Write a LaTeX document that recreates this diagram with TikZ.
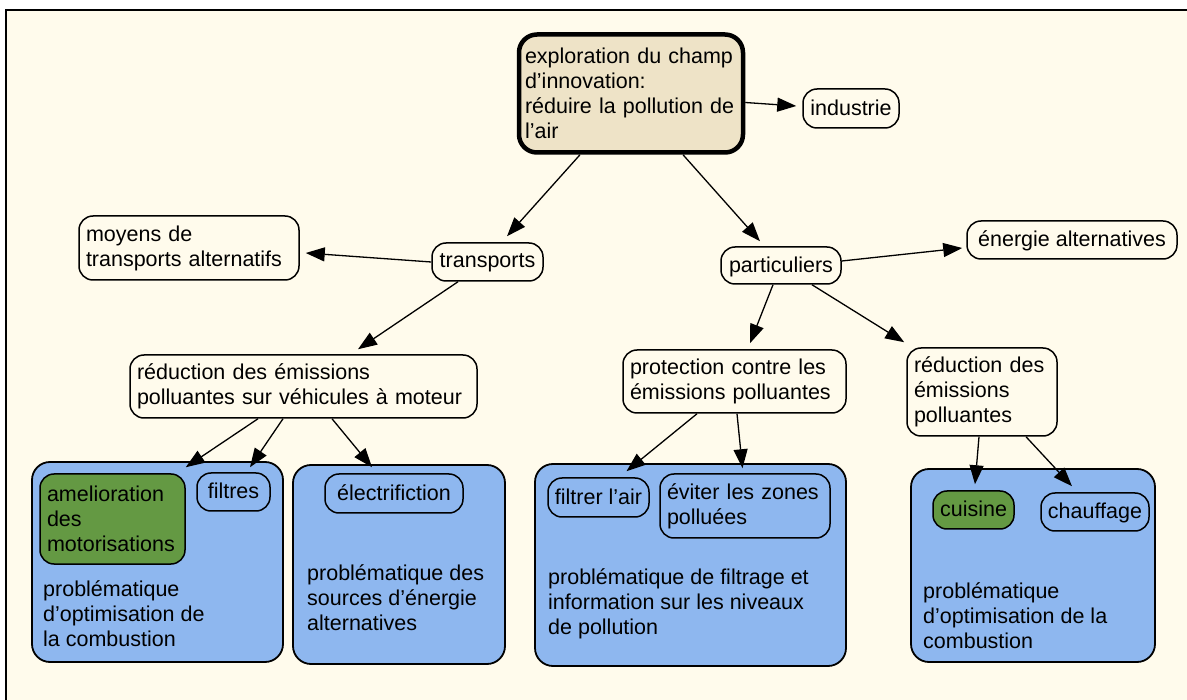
\documentclass[tikz,border=0pt]{standalone}
\usepackage{fontspec}
\setmainfont{Liberation Sans}
\usetikzlibrary{arrows.meta}
\definecolor{cream}{RGB}{255,251,236}
\definecolor{rootfill}{RGB}{238,227,199}
\definecolor{bluefill}{RGB}{142,183,239}
\definecolor{greenfill}{RGB}{100,153,67}
\begin{document}
\begin{tikzpicture}[x=1pt,y=-1pt,
  every node/.style={font=\fontsize{21.5}{25}\selectfont},
  sz/.style 2 args={minimum width=#1pt, minimum height=#2pt},
  cbox/.style={draw=black, line width=1.5pt, rounded corners=14pt, fill=cream, inner xsep=0pt, inner ysep=0pt, align=center, text depth=2pt},
  lbox/.style={draw=black, line width=1.5pt, rounded corners=14pt, fill=cream, inner xsep=7pt, inner ysep=0pt, align=left},
  rootbox/.style={draw=black, line width=4.5pt, rounded corners=18pt, fill=rootfill, inner xsep=6pt, inner ysep=0pt, align=left},
  bluebox/.style={draw=black, line width=1.8pt, rounded corners=18pt, fill=bluefill, inner sep=0pt},
  bbox/.style={draw=black, line width=1.5pt, rounded corners=14pt, fill=bluefill, inner xsep=0pt, inner ysep=0pt, align=center, text depth=2pt},
  gbox/.style={draw=black, line width=1.5pt, rounded corners=14pt, fill=greenfill, inner xsep=7pt, inner ysep=0pt, align=left},
  btext/.style={anchor=west, inner sep=0pt, align=left},
  arr/.style={draw=black, line width=1.3pt, -{Triangle[length=19pt,width=14pt]}}
]
\useasboundingbox (0,0) rectangle (1187,700);
\fill[white] (0,0) rectangle (1187,700);
\fill[cream] (6,10) rectangle (1187,700);
\draw[line width=2pt] (6,700) -- (6,10) -- (1187,10);

% top level
\node[rootbox, text width=212pt, sz={224}{118}] (root) at (631,93.5)
  {exploration du champ\\d’innovation:\\réduire la pollution de\\l’air};
\node[cbox, sz={96}{39}] (industrie) at (851,108.5) {industrie};
\node[cbox, sz={111}{38}] (transports) at (487.5,262) {transports};
\node[lbox, text width=206pt, sz={220}{64}] (moyens) at (189,248) {moyens de\\transports alternatifs};
\node[cbox, sz={120}{37}] (particuliers) at (781,265.5) {particuliers};
\node[cbox, sz={210}{38}] (energie) at (1072,240) {énergie alternatives};
\node[lbox, text width=333pt, sz={347}{63}] (redL) at (303.5,386.5) {réduction des émissions\\polluantes sur véhicules à moteur};
\node[lbox, text width=209pt, sz={223}{63}] (prot) at (734.5,381.5) {protection contre les\\émissions polluantes};
\node[lbox, text width=136pt, sz={150}{88}] (redR) at (982,392) {réduction des\\émissions\\polluantes};

% blue groups
\node[bluebox, sz={251}{200}] (box1) at (157.5,562) {};
\node[bluebox, sz={212}{199}] (box2) at (399,564.5) {};
\node[bluebox, sz={311}{202}] (box3) at (690.5,565) {};
\node[bluebox, sz={244}{193}] (box4) at (1033,565.5) {};

\node[gbox, text width=131pt, sz={145}{90}] (ameli) at (112.5,519) {amelioration\\des\\motorisations};
\node[bbox, sz={73}{38}] (filtres) at (233.5,492) {filtres};
\node[btext] (t1) at (43,614) {problématique\\d’optimisation de\\la combustion};

\node[bbox, sz={138}{39}] (electr) at (394,493.5) {électrifiction};
\node[btext] (t2) at (307,598) {problématique des\\sources d’énergie\\alternatives};

\node[bbox, sz={101}{39}] (filtrer) at (598.5,497.5) {filtrer l’air};
\node[lbox, fill=bluefill, text width=156pt, sz={170}{64}] (eviter) at (745,506) {éviter les zones\\polluées};
\node[btext] (t3) at (548,604) {problématique de filtrage et\\information sur les niveaux\\de pollution};

\node[bbox, fill=greenfill, sz={81}{38}] (cuisine) at (973.5,510) {cuisine};
\node[bbox, sz={108}{38}] (chauffage) at (1095,512) {chauffage};
\node[btext] (t4) at (923,616) {problématique\\d’optimisation de la\\combustion};

% connectors
\draw[arr] ([yshift=-9pt]root.east) -- ([xshift=-6pt,yshift=2.5pt]industrie.west);
\draw[arr] ([xshift=-51pt]root.south) -- ([xshift=19.5pt,yshift=6pt]transports.north);
\draw[arr] ([xshift=52pt]root.south) -- ([xshift=-21pt,yshift=5pt]particuliers.north);
\draw[arr] (transports.west) -- ([xshift=6pt,yshift=-5pt]moyens.east);
\draw[arr] ([xshift=-29.5pt]transports.south) -- ([xshift=54.5pt,yshift=5pt]redL.north);
\draw[arr] ([yshift=4.5pt]particuliers.east) -- ([xshift=-4pt,yshift=-8pt]energie.west);
\draw[arr] ([xshift=-8pt]particuliers.south) -- ([xshift=15.5pt,yshift=6pt]prot.north);
\draw[arr] ([xshift=31pt]particuliers.south) -- ([xshift=-2pt,yshift=5pt]redR.north west);
\draw[arr] ([xshift=-45.5pt]redL.south) -- ([yshift=6pt]ameli.north east);
\draw[arr] ([xshift=-20.5pt]redL.south) -- ([xshift=16.5pt,yshift=5pt]filtres.north);
\draw[arr] ([xshift=28.5pt]redL.south) -- ([xshift=-22pt,yshift=6pt]electr.north);
\draw[arr] ([xshift=-37.5pt]prot.south) -- ([xshift=28pt,yshift=6pt]filtrer.north);
\draw[arr] ([xshift=2.5pt]prot.south) -- ([xshift=-2.5pt,yshift=5pt]eviter.north);
\draw[arr] ([xshift=-3pt]redR.south) -- ([xshift=1.5pt,yshift=6pt]cuisine.north);
\draw[arr] ([xshift=44pt]redR.south) -- ([xshift=-23pt,yshift=6pt]chauffage.north);
\end{tikzpicture}
\end{document}
